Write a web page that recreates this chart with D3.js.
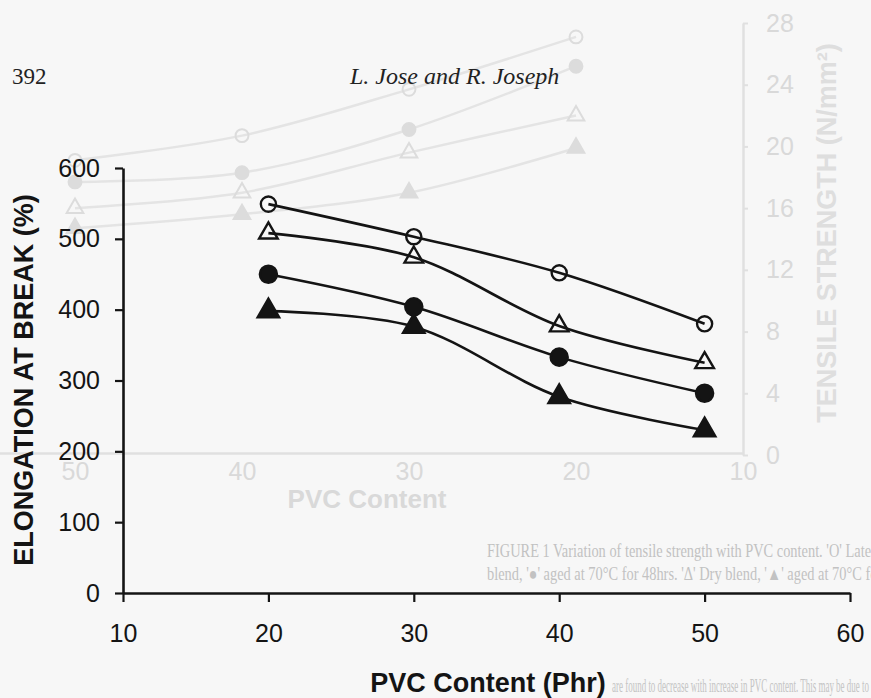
<!DOCTYPE html>
<html>
<head>
<meta charset="utf-8">
<script src="https://d3js.org/d3.v7.min.js"></script>
<style>
  html, body { margin: 0; padding: 0; background: #f7f7f7; }
  svg { display: block; }
</style>
</head>
<body>
<article></article>
<script>
// Fig. 2 - elongation at break vs PVC content
const pvc = [20, 30, 40, 50];
const latexBlend = [549, 503, 452, 380];   // open circle
const dryBlend = [508, 474, 377, 325];     // open triangle
const latexAged = [450, 404, 333, 282];    // filled circle
const dryAged = [398, 376, 277, 230];      // filled triangle

const xTicks = [10, 20, 30, 40, 50, 60];
const yTicks = [0, 100, 200, 300, 400, 500, 600];

// show-through of the facing figure (tensile strength)
const ghostPvc = [20, 30, 40, 50];
const ghostLatexBlend = [27.1, 23.7, 20.7, 19.1];
const ghostLatexAged = [25.2, 21.1, 18.3, 17.7];
const ghostDryBlend = [22.0, 19.6, 17.0, 16.0];
const ghostDryAged = [19.9, 17.0, 15.6, 14.7];
const ghostXTicks = [50, 40, 30, 20, 10];
const ghostYTicks = [0, 4, 8, 12, 16, 20, 24, 28];

const W = 871, H = 698;
const ink = '#141414';
const faint = '#e0e0e0';
const faintText = '#d9d9d9';

window.onload = function() {
    const svg = d3.select('article')
        .append('svg')
        .attr('id', 'chart')
        .attr('width', W)
        .attr('height', H);

    svg.append('rect')
        .attr('width', W)
        .attr('height', H)
        .attr('fill', '#f7f7f7');

    ghost(svg);
    header(svg);
    mainChart(svg);
}

function ghost(svg) {
    const g = svg.append('g').attr('id', 'ghost');
    const gx = d3.scaleLinear().domain([60, 10]).range([-92, 743]);
    const gy = d3.scaleLinear().domain([0, 28]).range([455, 23]);

    // x axis
    g.append('g')
        .attr('transform', 'translate(0,453)')
        .call(d3.axisBottom(gx).tickValues(ghostXTicks).tickSize(0).tickPadding(9).tickSizeOuter(0))
        .call(a => a.select('.domain').attr('stroke', faint).attr('stroke-width', 2.5))
        .call(a => a.selectAll('text')
            .attr('fill', faintText)
            .attr('font-family', 'Liberation Sans, Arial, sans-serif')
            .attr('font-size', 25));
    // y axis on the right
    g.append('g')
        .attr('transform', 'translate(743,0)')
        .call(d3.axisRight(gy).tickValues(ghostYTicks).tickSize(5).tickPadding(18).tickSizeOuter(0))
        .call(a => a.select('.domain').attr('stroke', faint).attr('stroke-width', 2.5))
        .call(a => a.selectAll('line').attr('stroke', faint).attr('stroke-width', 2))
        .call(a => a.selectAll('text')
            .attr('fill', faintText)
            .attr('font-family', 'Liberation Sans, Arial, sans-serif')
            .attr('font-size', 25));

    g.append('text')
        .attr('x', 367)
        .attr('y', 508)
        .attr('text-anchor', 'middle')
        .attr('font-family', 'Liberation Sans, Arial, sans-serif')
        .attr('font-weight', 'bold')
        .attr('font-size', 26)
        .attr('fill', faintText)
        .text('PVC Content');
    g.append('text')
        .attr('transform', 'translate(836,233) rotate(-90)')
        .attr('text-anchor', 'middle')
        .attr('font-family', 'Liberation Sans, Arial, sans-serif')
        .attr('font-weight', 'bold')
        .attr('font-size', 27)
        .attr('fill', '#dedede')
        .text('TENSILE STRENGTH (N/mm²)');

    const ghostSeries = [
        { values: ghostLatexBlend, type: d3.symbolCircle, filled: false },
        { values: ghostLatexAged, type: d3.symbolCircle, filled: true },
        { values: ghostDryBlend, type: d3.symbolTriangle, filled: false },
        { values: ghostDryAged, type: d3.symbolTriangle, filled: true }
    ];
    const line = d3.line()
        .x((d, i) => gx(ghostPvc[i]))
        .y(d => gy(d))
        .curve(d3.curveCatmullRom);
    ghostSeries.forEach(s => {
        g.append('path')
            .attr('d', line(s.values))
            .attr('fill', 'none')
            .attr('stroke', '#e4e4e4')
            .attr('stroke-width', 2.5);
        g.selectAll(null)
            .data(s.values)
            .enter()
            .append('path')
            .attr('transform', (d, i) => `translate(${gx(ghostPvc[i])},${gy(d)})`)
            .attr('d', d3.symbol().type(s.type).size(s.type === d3.symbolCircle ? 130 : 120))
            .attr('fill', s.filled ? '#dcdcdc' : 'none')
            .attr('stroke', '#dcdcdc')
            .attr('stroke-width', 2);
    });

    // caption and body text from the page underneath
    const serif = 'Liberation Serif, Times New Roman, serif';
    const cap = g.append('g')
        .attr('transform', 'translate(487,0) scale(0.8,1)')
        .attr('font-family', serif)
        .attr('font-size', 18)
        .attr('fill', '#c2c2c2');
    cap.append('text')
        .attr('x', 0).attr('y', 557)
        .text("FIGURE 1 Variation of tensile strength with PVC content. 'O' Latex stage");
    cap.append('text')
        .attr('x', 0).attr('y', 580)
        .text("blend, '●' aged at 70°C for 48hrs. 'Δ' Dry blend, '▲' aged at 70°C for 48hrs.");
    g.append('text')
        .attr('x', 612).attr('y', 692)
        .attr('font-family', serif).attr('font-size', 19).attr('fill', '#c4c4c4')
        .attr('textLength', 257)
        .attr('lengthAdjust', 'spacingAndGlyphs')
        .text('are found to decrease with increase in PVC content. This may be due to');
}

function header(svg) {
    svg.append('text')
        .attr('x', 12)
        .attr('y', 84)
        .attr('font-family', 'Liberation Serif, Times New Roman, serif')
        .attr('font-size', 23)
        .attr('fill', '#222')
        .text('392');
    svg.append('text')
        .attr('x', 350)
        .attr('y', 84)
        .attr('font-family', 'Liberation Serif, Times New Roman, serif')
        .attr('font-style', 'italic')
        .attr('font-size', 24)
        .attr('fill', '#222')
        .text('L. Jose and R. Joseph');
}

function mainChart(svg) {
    const x = d3.scaleLinear().domain([10, 60]).range([123, 850]);
    const y = d3.scaleLinear().domain([0, 600]).range([593, 168]);
    const sans = 'Liberation Sans, Arial, sans-serif';

    const g = svg.append('g').attr('id', 'main');

    // axes
    g.append('g')
        .attr('transform', 'translate(0,593)')
        .call(d3.axisBottom(x).tickValues(xTicks).tickSize(9).tickPadding(22).tickSizeOuter(0))
        .call(a => a.select('.domain').attr('stroke', ink).attr('stroke-width', 2.6))
        .call(a => a.selectAll('line').attr('stroke', ink).attr('stroke-width', 2.2))
        .call(a => a.selectAll('text')
            .attr('fill', ink)
            .attr('font-family', sans)
            .attr('font-size', 25));
    g.append('g')
        .attr('transform', 'translate(123,0)')
        .call(d3.axisLeft(y).tickValues(yTicks).tickSize(8).tickPadding(15).tickSizeOuter(0))
        .call(a => a.select('.domain').attr('stroke', ink).attr('stroke-width', 2.6))
        .call(a => a.selectAll('line').attr('stroke', ink).attr('stroke-width', 2.2))
        .call(a => a.selectAll('text')
            .attr('fill', ink)
            .attr('font-family', sans)
            .attr('font-size', 25));

    // axis titles
    g.append('text')
        .attr('x', 488)
        .attr('y', 692)
        .attr('text-anchor', 'middle')
        .attr('font-family', sans)
        .attr('font-weight', 'bold')
        .attr('font-size', 27)
        .attr('fill', ink)
        .text('PVC Content (Phr)');
    g.append('text')
        .attr('transform', 'translate(33,380) rotate(-90)')
        .attr('text-anchor', 'middle')
        .attr('font-family', sans)
        .attr('font-weight', 'bold')
        .attr('font-size', 27)
        .attr('fill', ink)
        .text('ELONGATION AT BREAK (%)');

    const series = [
        { name: 'Latex stage blend', values: latexBlend, type: d3.symbolCircle, filled: false },
        { name: 'Dry blend', values: dryBlend, type: d3.symbolTriangle, filled: false },
        { name: 'Latex blend aged', values: latexAged, type: d3.symbolCircle, filled: true },
        { name: 'Dry blend aged', values: dryAged, type: d3.symbolTriangle, filled: true }
    ];

    const line = d3.line()
        .x((d, i) => x(pvc[i]))
        .y(d => y(d))
        .curve(d3.curveCatmullRom);

    series.forEach(s => {
        g.append('path')
            .attr('d', line(s.values))
            .attr('fill', 'none')
            .attr('stroke', ink)
            .attr('stroke-width', 2.6);
    });
    series.forEach(s => {
        let size;
        if (s.type === d3.symbolCircle) size = s.filled ? 230 : 180;
        else size = s.filled ? 200 : 150;
        g.selectAll(null)
            .data(s.values)
            .enter()
            .append('path')
            .attr('transform', (d, i) => `translate(${x(pvc[i])},${y(d)})`)
            .attr('d', d3.symbol().type(s.type).size(size))
            .attr('fill', s.filled ? ink : 'none')
            .attr('stroke', ink)
            .attr('stroke-width', 2.4);
    });
}
</script>
</body>
</html>
